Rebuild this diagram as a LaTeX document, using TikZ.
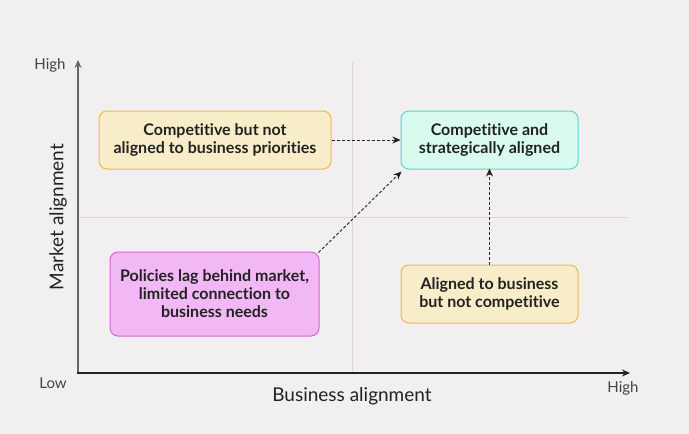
\documentclass[tikz,border=0pt]{standalone}
\usepackage{fontspec}
\setmainfont{Lato}[Ligatures=NoCommon]
\usetikzlibrary{arrows.meta, positioning}

\definecolor{bgcol}{HTML}{F1EFEF}
\definecolor{gridcol}{HTML}{D9D5D5}
\definecolor{txtcol}{HTML}{222222}
\definecolor{yelfill}{HTML}{F7EDC8}
\definecolor{yeldraw}{HTML}{EFBB4C}
\definecolor{tealfill}{HTML}{D9FAEE}
\definecolor{tealdraw}{HTML}{4FDCCA}
\definecolor{pinkfill}{HTML}{F2B7F5}
\definecolor{pinkdraw}{HTML}{D866D2}

\tikzset{
    quadbox/.style={rounded corners=8pt, line width=1pt, align=center,
        font=\fontsize{16}{18}\selectfont\bfseries, text=txtcol, inner sep=0pt},
    linkarrow/.style={-{Stealth[length=8pt,width=7pt]}, line width=0.9pt, txtcol,
        dash pattern=on 3pt off 2pt},
    axislabel/.style={font=\fontsize{15}{17}\selectfont, text=txtcol!85}
}

\begin{document}
\begin{tikzpicture}[x=1pt, y=-1pt]
    % Background
    \fill[bgcol] (0,0) rectangle (689,434);
    \useasboundingbox (0,0) rectangle (689,434);

    % Grid lines
    \draw[gridcol, line width=1pt] (352,62) -- (352,373);
    \draw[gridcol, line width=1pt] (78,217) -- (628,217);

    % Axes
    \draw[gray!80!black, line width=1.2pt, -{Stealth[length=8pt,width=7pt]}] (78,374) -- (78,60);
    \draw[txtcol, line width=1.2pt, -{Stealth[length=8pt,width=7pt]}] (77,373) -- (630,373);

    % Axis labels
    \node[axislabel] (yhigh) at (50,65) {High};
    \node[axislabel] (xlow) at (53,383) {Low};
    \node[axislabel] (xhigh) at (623,388) {High};
    \node[font=\fontsize{19}{22}\selectfont, text=txtcol] (xlab) at (352,396) {Business alignment};
    \node[font=\fontsize{19}{22}\selectfont, text=txtcol, rotate=90] (ylab) at (58,217) {Market alignment};

    % Quadrant boxes
    \node[quadbox, fill=yelfill, draw=yeldraw, minimum width=232pt, minimum height=58pt]
        (compnot) at (215,140) {Competitive but not\\aligned to business priorities};
    \node[quadbox, fill=tealfill, draw=tealdraw, minimum width=177pt, minimum height=58pt]
        (compalign) at (489.5,140) {Competitive and\\strategically aligned};
    \node[quadbox, fill=pinkfill, draw=pinkdraw, minimum width=209pt, minimum height=84pt]
        (lag) at (214.5,294) {Policies lag behind market,\\limited connection to\\business needs};
    \node[quadbox, fill=yelfill, draw=yeldraw, minimum width=177pt, minimum height=58pt]
        (busnot) at (489.5,294) {Aligned to business\\but not competitive};

    % Links
    \draw[linkarrow] (compnot.east) -- (compalign.west);
    \draw[linkarrow] ([xshift=-1pt,yshift=-1pt]lag.north east) -- ([xshift=1pt,yshift=-2pt]compalign.south west);
    \draw[linkarrow] (busnot.north) -- ([yshift=1pt]compalign.south);
\end{tikzpicture}
\end{document}
